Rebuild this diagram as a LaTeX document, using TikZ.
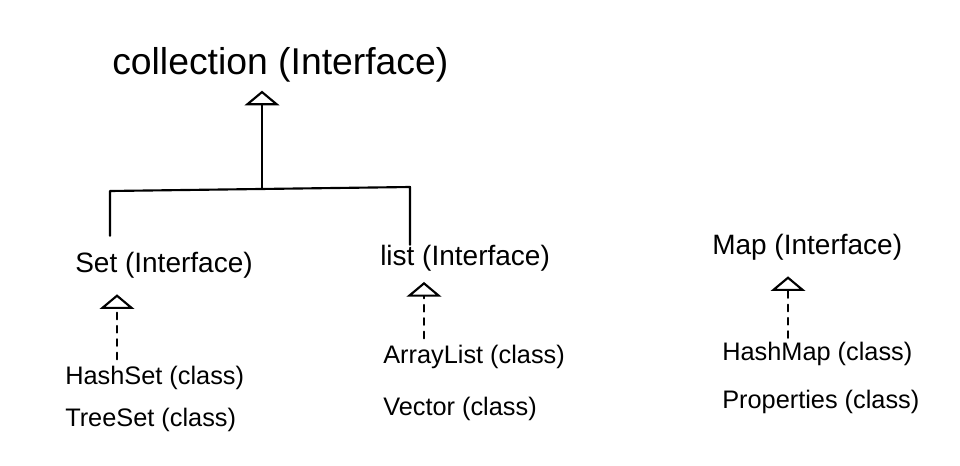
\documentclass[tikz,border=0pt]{standalone}
\usepackage{fontspec}
\setmainfont{Liberation Sans}
\usetikzlibrary{arrows.meta}
\begin{document}
\begin{tikzpicture}[x=0.75pt,y=-0.75pt,
 big/.style={inner sep=0pt, anchor=west, font=\fontsize{28}{32}\selectfont},
 ifc/.style={inner sep=0pt, anchor=west, font=\fontsize{21}{24}\selectfont},
 lbl/.style={inner sep=0pt, anchor=west, font=\fontsize{19}{22}\selectfont},
 link/.style={line width=1.6pt, line cap=round, line join=round},
 impl/.style={link, -{Triangle[open, width=26pt, length=11pt, line width=1.6pt]}},
 realize/.style={impl, dash pattern=on 5pt off 5pt}]
\useasboundingbox (0,0) rectangle (960,465);
\node[big] (coll) at (112,65) {collection (Interface)};
\node[ifc] (set) at (75,265) {Set (Interface)};
\node[ifc] (list) at (380,258) {list (Interface)};
\node[ifc] (map) at (712,247) {Map (Interface)};
\node[lbl] (hashset) at (65,378) {HashSet (class)};
\node[lbl] (treeset) at (65,420) {TreeSet (class)};
\node[lbl] (arraylist) at (383,357) {ArrayList (class)};
\node[lbl] (vector) at (383,409) {Vector (class)};
\node[lbl] (hashmap) at (722,354) {HashMap (class)};
\node[lbl] (props) at (722,402) {Properties (class)};
\coordinate (barL) at (110,191);
\coordinate (barR) at (410,187);
\coordinate (barM) at (262,188);
\coordinate (setx) at (117,0);
\coordinate (listx) at (424,0);
\coordinate (mapx) at (788,0);
\draw[link, shorten <=12pt] (set.north -| barL) -- (barL) -- (barR) -- (list.north -| barR);
\draw[impl, shorten >=6pt] (barM) -- (coll.south -| barM);
\draw[realize, shorten <=5pt, shorten >=12pt] (hashset.north -| setx) -- (set.south -| setx);
\draw[realize, shorten <=5pt, shorten >=8pt] (arraylist.north -| listx) -- (list.south -| listx);
\draw[realize, shorten <=3pt, shorten >=12pt] (hashmap.north -| mapx) -- (map.south -| mapx);
\end{tikzpicture}
\end{document}
